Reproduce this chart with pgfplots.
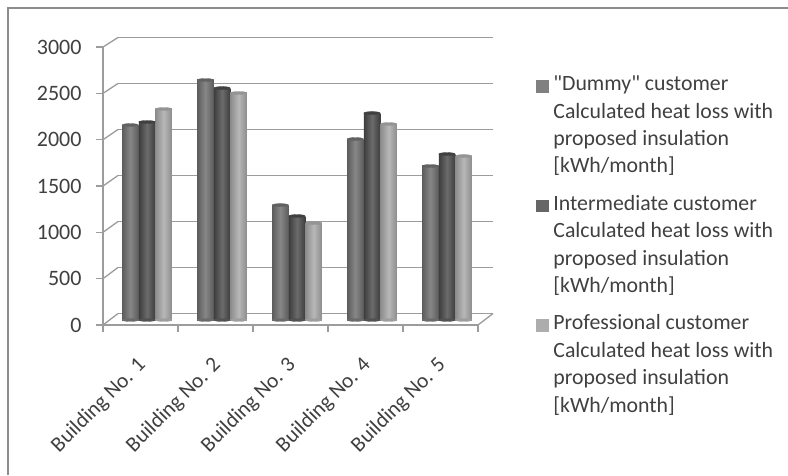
\documentclass[border=0pt]{standalone}
\usepackage{pgfplots}
\usepackage{pgfplotstable}
\usepackage{fontspec}
\setmainfont{Carlito}
\newfontfamily\plainfont{Carlito}
\pgfplotsset{compat=1.18}
\definecolor{axisgray}{HTML}{9C9C9C}
\definecolor{framegray}{HTML}{8C8C8C}
\definecolor{txt}{HTML}{404040}
\newcommand\legtext[1]{\vtop{\baselineskip=27.4pt\hbox{#1}\hbox{Calculated heat loss with}\hbox{proposed insulation}\hbox{[kWh/month]}}}
\pgfplotstableread{
x y
0 2104
1 2590
2 1240
3 1953
4 1662
}\dummy
\pgfplotstableread{
x y
0 2137
1 2503
2 1122
3 2233
4 1791
}\intermediate
\pgfplotstableread{
x y
0 2277
1 2450
2 1046
3 2115
4 1769
}\professional
\pgfplotsset{
  only/.style={skip coords between index={0}{#1},skip coords between index={\numexpr#1+1\relax}{5}},
  onebar/.style 2 args={ybar,bar width=16.5pt,bar shift=0pt,draw=none,forget plot,
    left color=black!#1,right color=black!#1,middle color=black!#2},
  cap/.style={forget plot,only marks,mark=*,mark size=8.25pt,
    mark options={yscale=0.18,draw=#1,fill=#1,line width=0.3pt}},
}
\begin{document}
\begin{tikzpicture}[x=1pt,y=1pt]
\useasboundingbox (0,0) rectangle (788,475);
\fill[white] (0,0) rectangle (788,475);
\draw[framegray,line width=1.5pt] (8,0) -- (8,467) -- (788,467);
% back wall grid
\begin{axis}[name=back,at={(118pt,161.5pt)},anchor=south west,scale only axis,width=375pt,height=276pt,
  xmin=0,xmax=5,ymin=0,ymax=3000,ytick={0,500,...,3000},xtick=\empty,
  axis line style={draw=none},major tick length=0pt,yticklabels={},
  ymajorgrids,grid style={axisgray,line width=1.3pt}]
\end{axis}
% depth connectors
\foreach \k in {0,...,6}{
  \draw[axisgray,line width=1.3pt] (103,150+\k*46.33) -- (118,161.5+\k*46);
}
\draw[axisgray,line width=1.3pt] (478,150) -- (493,161.5);
% front axes
\begin{axis}[name=front,at={(103pt,150pt)},anchor=south west,scale only axis,width=375pt,height=278pt,
  xmin=0,xmax=5,ymin=0,ymax=3000,ytick={0,500,...,3000},
  axis x line*=bottom,axis y line*=left,
  axis line style={axisgray,line width=1.3pt,-},
  tick style={axisgray,line width=1.3pt},
  tick align=outside,major tick length=7pt,
  xtick={0,1,2,3,4,5},
  extra x ticks={0.5,1.5,2.5,3.5,4.5},
  extra x tick labels={Building No. 1,Building No. 2,Building No. 3,Building No. 4,Building No. 5},
  extra x tick style={major tick length=0pt,
    xticklabel style={rotate=45,anchor=north east,xshift=-21.2pt,yshift=-14.7pt,font=\fontsize{21.5}{21.5}\selectfont,text=txt}},
  xticklabels={},
  /pgf/number format/assume math mode=true,
  /pgf/number format/set thousands separator={},
  yticklabel style={font=\fontsize{22}{22}\selectfont,text=txt,xshift=-11pt}]
\end{axis}
% bars
\begin{axis}[at={(103pt,155pt)},anchor=south west,scale only axis,width=375pt,height=278pt,
  xmin=0,xmax=5,ymin=0,ymax=3000,hide axis,clip=false,
  legend style={at={(433pt,244pt)},anchor=north west,draw=none,fill=none,
    font=\fontsize{21.8}{27}\selectfont,text=txt,row sep=103pt,column sep=5.5pt,inner sep=0pt,outer sep=0pt,
    cells={anchor=base west},nodes={inner sep=0pt,outer sep=0pt}}]
\addlegendimage{legend image code/.code={\fill[black!50] (0pt,-1pt) rectangle (11.5pt,10.5pt);}}
\addlegendentry{\legtext{{\plainfont"}Dummy{\plainfont"} customer}}
\addlegendimage{legend image code/.code={\fill[black!60] (0pt,-1pt) rectangle (11.5pt,10.5pt);}}
\addlegendentry{\legtext{Intermediate customer}}
\addlegendimage{legend image code/.code={\fill[black!32] (0pt,-1pt) rectangle (11.5pt,10.5pt);}}
\addlegendentry{\legtext{Professional customer}}
\pgfplotsinvokeforeach{0,...,4}{
  \addplot[onebar={64}{47},only={#1}] table[x expr=\thisrow{x}+0.364,y=y]{\dummy};
  \addplot[cap=black!62,only={#1}] table[x expr=\thisrow{x}+0.364,y=y]{\dummy};
  \addplot[cap=black!58,only={#1}] table[x expr=\thisrow{x}+0.364,y expr=0]{\dummy};
  \addplot[onebar={76}{58},only={#1}] table[x expr=\thisrow{x}+0.587,y=y]{\intermediate};
  \addplot[cap=black!75,only={#1}] table[x expr=\thisrow{x}+0.587,y=y]{\intermediate};
  \addplot[cap=black!68,only={#1}] table[x expr=\thisrow{x}+0.587,y expr=0]{\intermediate};
  \addplot[onebar={45}{28},only={#1}] table[x expr=\thisrow{x}+0.809,y=y]{\professional};
  \addplot[cap=black!42,only={#1}] table[x expr=\thisrow{x}+0.809,y=y]{\professional};
  \addplot[cap=black!38,only={#1}] table[x expr=\thisrow{x}+0.809,y expr=0]{\professional};
}
\end{axis}
\end{tikzpicture}
\end{document}
